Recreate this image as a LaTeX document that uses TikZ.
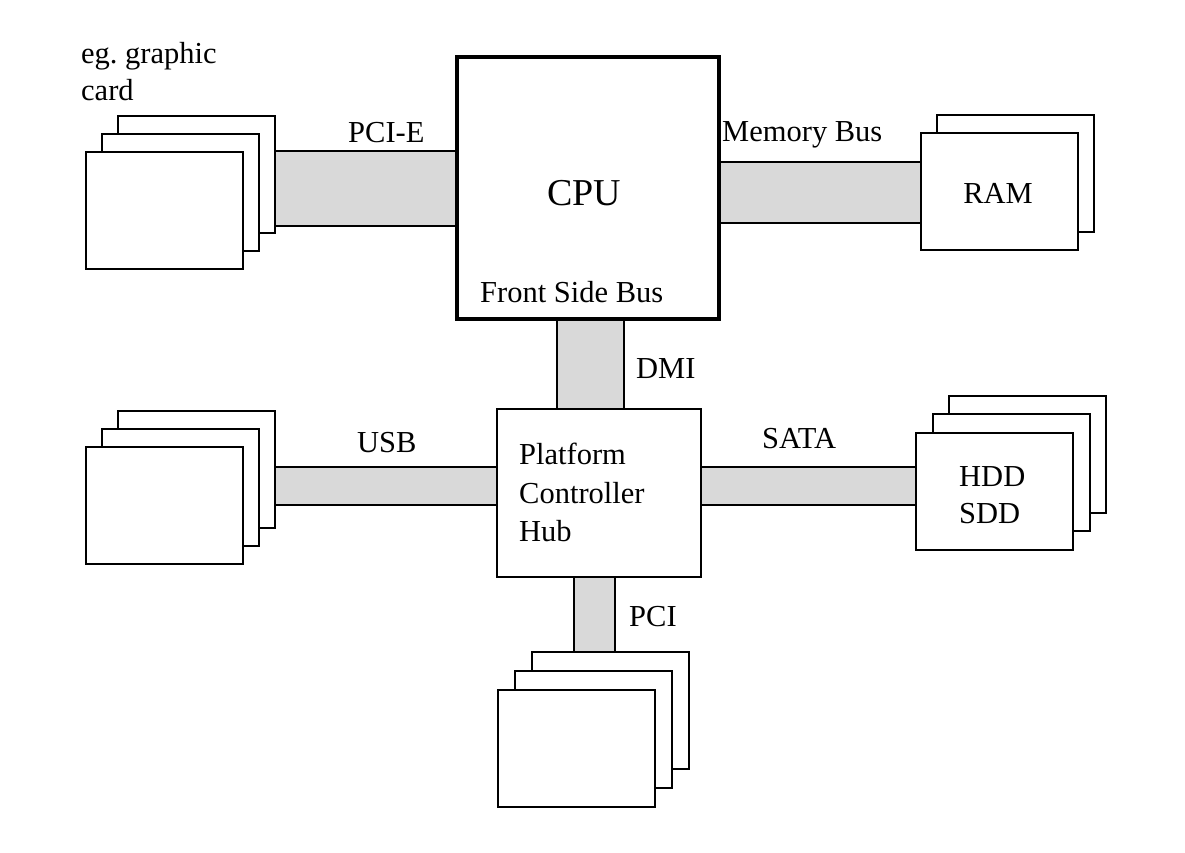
\documentclass[tikz,border=0pt]{standalone}
\usepackage{fontspec}
\setmainfont{Liberation Serif}
\usetikzlibrary{backgrounds}
\frenchspacing
\begin{document}
\begin{tikzpicture}[x=1pt,y=-1pt,
  card/.style={draw=black, fill=white, line width=2pt, anchor=north west,
    minimum width=157pt, minimum height=117pt, inner sep=0pt, outer sep=0pt},
  bus/.style={draw=black, fill=busgray, line width=2pt},
  chip/.style={draw=black, fill=white, anchor=north west, inner sep=0pt, outer sep=0pt},
  lbl/.style={anchor=base west, inner sep=0pt, font=\fontsize{30.5}{36}\selectfont},
  big/.style={anchor=base, inner sep=0pt, font=\fontsize{38}{44}\selectfont}]
\definecolor{busgray}{HTML}{D9D9D9}
\useasboundingbox (0,0) rectangle (1185,852);

% processor and chipset hub
\node[chip, line width=4pt, minimum width=262pt, minimum height=262pt] (cpu) at (457,57) {};
\node[chip, line width=2pt, minimum width=204pt, minimum height=168pt] (pch) at (497,409) {};

% expansion cards behind the PCIe link
\node[card] (gpuC) at (118,116) {};
\node[card] (gpuB) at (102,134) {};
\node[card] (gpuA) at (86,152) {};
% memory modules
\node[card] (ramB) at (937,115) {};
\node[card] (ramA) at (921,133) {};
% USB devices
\node[card] (usbC) at (118,411) {};
\node[card] (usbB) at (102,429) {};
\node[card] (usbA) at (86,447) {};
% drives
\node[card] (satC) at (949,396) {};
\node[card] (satB) at (933,414) {};
\node[card] (satA) at (916,433) {};
% PCI devices
\node[card] (pciC) at (532,652) {};
\node[card] (pciB) at (515,671) {};
\node[card] (pciA) at (498,690) {};

% buses between the components, kept behind the boxes
\begin{pgfonlayer}{background}
\path[bus] (gpuC.east |- 0,151) rectangle (cpu.west |- 0,226);
\path[bus] (cpu.east |- 0,162) rectangle (ramA.west |- 0,223);
\path[bus] (cpu.south -| 557,0) rectangle (pch.north -| 624,0);
\path[bus] (usbC.east |- 0,467) rectangle (pch.west |- 0,505);
\path[bus] (pch.east |- 0,467) rectangle (satA.west |- 0,505);
\path[bus] (pch.south -| 574,0) rectangle (pciC.north -| 615,0);
\end{pgfonlayer}

% labels
\node[big] (cpuT) at (584,205) {CPU};
\node[lbl] (fsbT) at (480,302) {Front Side Bus};
\node[lbl] (egA) at (81,63) {eg. graphic};
\node[lbl] (egB) at (81,100) {card};
\node[lbl] (pcieT) at (348,142) {PCI-E};
\node[lbl] (memT) at (722,141) {Memory Bus};
\node[big, font=\fontsize{30.5}{36}\selectfont] (ramT) at (998,203) {RAM};
\node[lbl] (dmiT) at (636,378) {DMI};
\node[lbl] (pchA) at (519,464) {Platform};
\node[lbl] (pchB) at (519,503) {Controller};
\node[lbl] (pchC) at (519,541) {Hub};
\node[lbl] (usbT) at (357,452) {USB};
\node[lbl] (sataT) at (762,448) {SATA};
\node[lbl] (hddT) at (959,486) {HDD};
\node[lbl] (sddT) at (959,523) {SDD};
\node[lbl] (pciT) at (629,626) {PCI};
\end{tikzpicture}
\end{document}
